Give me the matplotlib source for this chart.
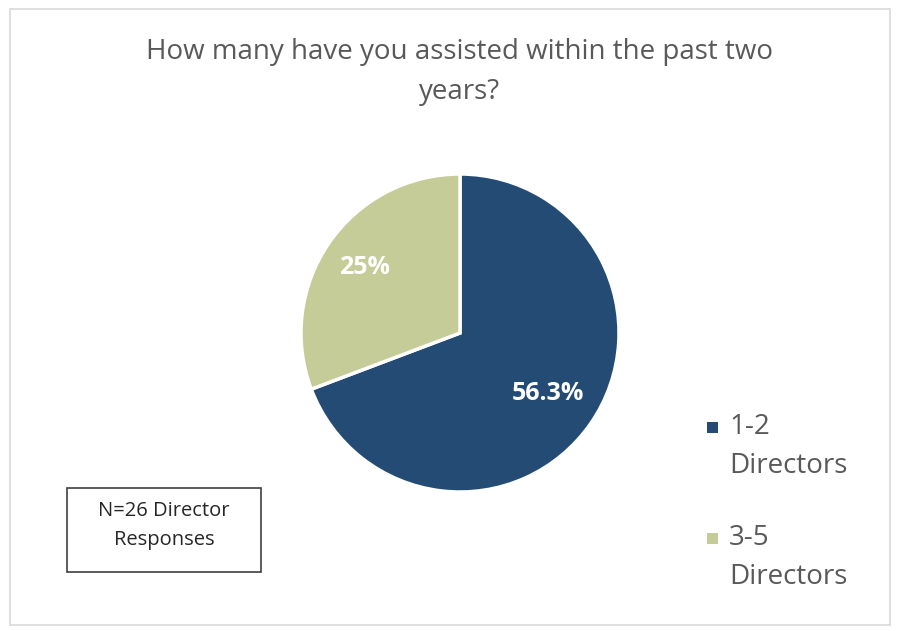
import matplotlib
matplotlib.use("Agg")
import matplotlib.pyplot as plt
from matplotlib.patches import Rectangle
import numpy as np

# Survey responses
categories = ["1-2\nDirectors", "3-5\nDirectors"]
values = [56.3, 25]
value_labels = ["56.3%", "25%"]
colors = ["#244B73", "#C5CC98"]

plt.rcParams["font.family"] = ["Open Sans", "DejaVu Sans"]

W, H = 897, 631
fig = plt.figure(figsize=(W / 100, H / 100), dpi=100)

# outer chart frame
fig.patches.append(Rectangle((10 / W, 6 / H), 880 / W, 616 / H, transform=fig.transFigure,
                             fill=False, edgecolor="#D9D9D9", linewidth=1.2))

fig.text(460 / W, 1 - 52 / H, "How many have you assisted within the past two",
         ha="center", va="center", fontsize=20, color="#595959")
fig.text(460 / W, 1 - 92 / H, "years?", ha="center", va="center",
         fontsize=20, color="#595959")

cx, cy, r = 460, 333, 159
ax = fig.add_axes([(cx - r) / W, (H - cy - r) / H, 2 * r / W, 2 * r / H])
wedges, _ = ax.pie(values, colors=colors, startangle=90, counterclock=False,
                   wedgeprops=dict(edgecolor="white", linewidth=2.5))
ax.set_xlim(-1.0, 1.0)
ax.set_ylim(-1.0, 1.0)
ax.set_aspect("equal")

# value labels inside the slices
total = sum(values)
angle = 90.0
label_r = [0.67, 0.73]
for i, (v, lab) in enumerate(zip(values, value_labels)):
    span = 360 * v / total
    mid = np.deg2rad(angle - span / 2)
    angle -= span
    ax.text(label_r[i] * np.cos(mid), label_r[i] * np.sin(mid), lab,
            ha="center", va="center", color="white", fontsize=18, fontweight="bold")

# legend
leg_y = [427, 538]
for i, (cat, col) in enumerate(zip(categories, colors)):
    y = leg_y[i]
    fig.patches.append(Rectangle((707 / W, 1 - (y + 6) / H), 11 / W, 11 / H,
                                 transform=fig.transFigure, facecolor=col, edgecolor="none"))
    first, second = cat.split("\n")
    fig.text(729 / W, 1 - y / H, first, ha="left", va="center", fontsize=20, color="#595959")
    fig.text(729 / W, 1 - (y + 39) / H, second, ha="left", va="center", fontsize=20, color="#595959")

# sample size note
fig.patches.append(Rectangle((67 / W, 1 - 572 / H), 194 / W, 84 / H, transform=fig.transFigure,
                             fill=False, edgecolor="#404040", linewidth=1.2))
fig.text(164 / W, 1 - 511 / H, "N=26 Director", ha="center", va="center", fontsize=14.5, color="#262626")
fig.text(164 / W, 1 - 540 / H, "Responses", ha="center", va="center", fontsize=14.5, color="#262626")

fig.savefig("out.png", dpi=100)
